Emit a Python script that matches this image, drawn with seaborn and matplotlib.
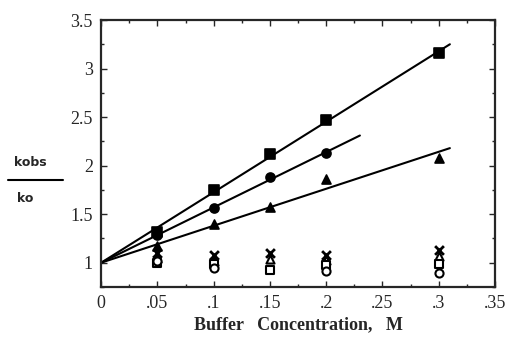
import numpy as np
import pandas as pd
import matplotlib
matplotlib.use("Agg")
import matplotlib.pyplot as plt
import seaborn as sns
from matplotlib.ticker import MultipleLocator

# Data
conc = [0.05, 0.1, 0.15, 0.2, 0.3]
sq_filled = [1.32, 1.75, 2.12, 2.47, 3.16]
ci_filled_x = [0.05, 0.1, 0.15, 0.2]
ci_filled = [1.28, 1.56, 1.88, 2.13]
tri_filled = [1.17, 1.40, 1.57, 1.86, 2.08]

cross_y = [1.10, 1.08, 1.10, 1.08, 1.13]
tri_open = [1.05, 1.02, 1.04, 1.03, 1.07]
sq_open = [1.00, 0.99, 0.92, 0.98, 0.99]
ci_open_x = [0.05, 0.1, 0.2, 0.3]
ci_open = [1.02, 0.95, 0.91, 0.89]

# fitted lines: start and end points
line_sq_x = [0.0, 0.31]
line_sq_y = [1.0, 3.25]
line_ci_x = [0.0, 0.23]
line_ci_y = [1.0, 2.31]
line_tri_x = [0.0, 0.31]
line_tri_y = [1.0, 2.18]

xticks = [0, 0.05, 0.1, 0.15, 0.2, 0.25, 0.3, 0.35]
xticklabels = ["0", ".05", ".1", ".15", ".2", ".25", ".3", ".35"]
yticks = [1, 1.5, 2, 2.5, 3, 3.5]
yticklabels = ["1", "1.5", "2", "2.5", "3", "3.5"]

sns.set_style("ticks")
plt.rcParams["font.family"] = ["Liberation Serif", "DejaVu Serif"]

fig = plt.figure(figsize=(5.06, 3.42), dpi=100)
ax = fig.add_axes([0.2, 0.161, 0.778, 0.7805])

for lx, ly in [(line_sq_x, line_sq_y), (line_ci_x, line_ci_y), (line_tri_x, line_tri_y)]:
    sns.lineplot(x=lx, y=ly, ax=ax, color="black", linewidth=1.5, estimator=None, sort=False)

kw = dict(ax=ax, color="black", s=42, edgecolor="black", linewidth=1.2, zorder=5)
sns.scatterplot(x=conc, y=sq_filled, marker="s", **kw)
sns.scatterplot(x=ci_filled_x, y=ci_filled, marker="o", **kw)
sns.scatterplot(x=conc, y=tri_filled, marker="^", **kw)

sns.scatterplot(x=conc, y=cross_y, marker="x", ax=ax, color="black", s=40, linewidth=2.0, zorder=5)
okw = dict(ax=ax, facecolor="white", edgecolor="black", s=34, linewidth=1.5, zorder=4)
sns.scatterplot(x=conc, y=tri_open, marker="^", **okw)
sns.scatterplot(x=conc, y=sq_open, marker="s", **okw)
sns.scatterplot(x=ci_open_x, y=ci_open, marker="o", **okw)

ax.set_xlim(0, 0.35)
ax.set_ylim(0.75, 3.5)
ax.set_xticks(xticks)
ax.set_xticklabels(xticklabels)
ax.set_yticks(yticks)
ax.set_yticklabels(yticklabels)
ax.xaxis.set_minor_locator(MultipleLocator(0.025))
ax.yaxis.set_minor_locator(MultipleLocator(0.25))
ax.tick_params(which="both", direction="in", top=True, right=True, width=1.0)
ax.tick_params(which="major", length=4, labelsize=13, pad=6)
ax.tick_params(which="minor", length=2)
for sp in ax.spines.values():
    sp.set_linewidth(1.6)
    sp.set_visible(True)

ax.set_xlabel("Buffer   Concentration,   M", fontsize=13, fontweight="bold", labelpad=3)
ax.set_ylabel("")

fig.text(0.059, 0.526, "kobs", fontsize=9, fontweight="bold", ha="center", va="center",
         family=["DejaVu Sans"])
fig.add_artist(plt.Line2D([0.016, 0.125], [0.474, 0.474], color="black", linewidth=1.5,
                          transform=fig.transFigure))
fig.text(0.05, 0.421, "ko", fontsize=9, fontweight="bold", ha="center", va="center",
         family=["DejaVu Sans"])

fig.savefig("out.png", dpi=100)
